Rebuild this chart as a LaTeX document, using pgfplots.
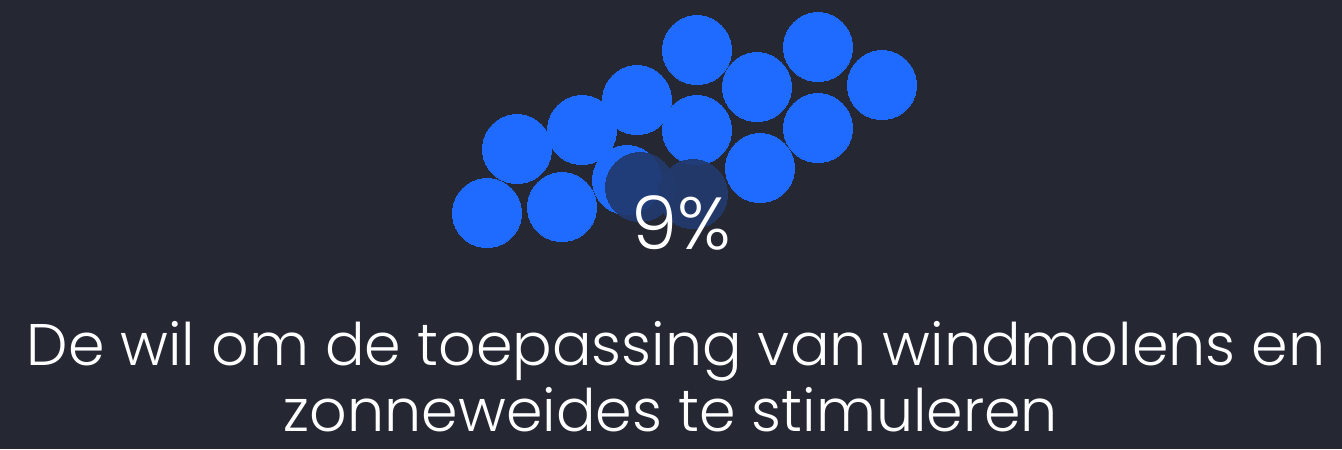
\documentclass[border=0pt]{standalone}
\usepackage{pgfplots}
\pgfplotsset{compat=1.18}
\usepackage{fontspec}
\setmainfont{Poppins}[UprightFont={* Light}]
\definecolor{bg}{HTML}{252833}
\definecolor{dotblue}{HTML}{1F6BFF}
\definecolor{dotdark}{HTML}{223A6E}

% circle centres in picture pixels (y measured from the bottom)
\pgfplotstableread{
x y
487 236
562 242
517 300
582 319
637 349
697 399
757 362
818 402
882 364
697 319
818 321
760 281
627 269
}\bluedots
\pgfplotstableread{
x y
640 262
693 255
}\darkdots

\begin{document}
\begin{tikzpicture}
\begin{axis}[
    width=13.42cm, height=4.49cm, scale only axis,
    xmin=0, xmax=1342, ymin=0, ymax=449,
    hide axis, clip=false,
]
\fill[bg] (rel axis cs:0,0) rectangle (rel axis cs:1,1);
\addplot[only marks, mark=*, mark size=0.345cm, color=dotblue, mark options={draw=dotblue, fill=dotblue, line width=0pt}] table {\bluedots};
\addplot[only marks, mark=*, mark size=0.345cm, color=dotdark, mark options={draw=dotdark, fill=dotdark, line width=0pt, opacity=0.92}] table {\darkdots};
\coordinate (pct) at (axis cs:681,200);
\coordinate (l1) at (axis cs:676,84);
\coordinate (l2) at (axis cs:671,18);
\end{axis}
\node[text=white, font=\fontsize{21}{24}\selectfont, anchor=base] at (pct) {9\%};
\node[text=white, font=\fontsize{16.7}{19.5}\selectfont, anchor=base] at (l1) {De wil om de toepassing van windmolens en};
\node[text=white, font=\fontsize{16.7}{19.5}\selectfont, anchor=base] at (l2) {zonneweides te stimuleren};
\end{tikzpicture}
\end{document}
